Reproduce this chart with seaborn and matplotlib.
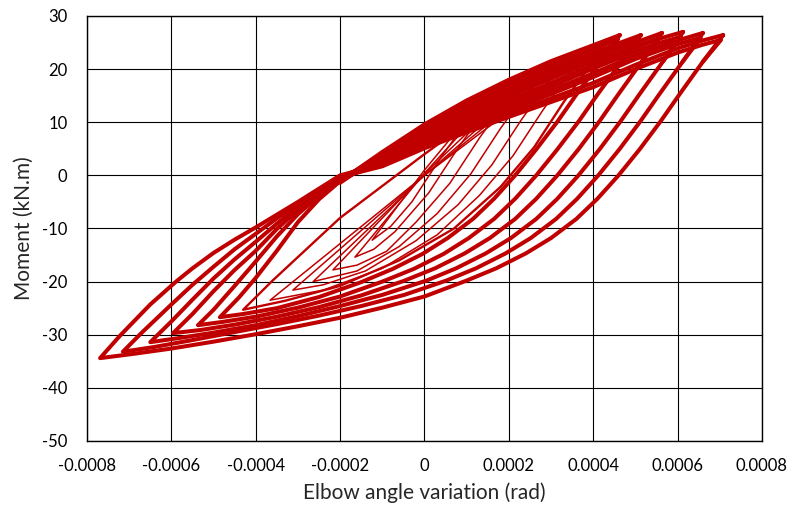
import pandas as pd
import matplotlib
matplotlib.use("Agg")
import matplotlib.pyplot as plt
from matplotlib.ticker import MultipleLocator, AutoMinorLocator, FuncFormatter
import seaborn as sns

LINE_RED = "#C00000"

# ---- small cycles (one cycle each): unloading = peak -> negative tip, reloading = tip -> peak
t1_unload = [(0.00013, 13.5), (0.00004, 3.5), (-0.00003, -5.0), (-0.00008, -9.6), (-0.000124, -12.2)]
t1_reload = [(-0.000124, -12.2), (0.0, 1.0), (0.00013, 13.5)]
t2_unload = [(0.00017, 15.2), (0.00008, 5.2), (0.00001, -3.3), (-0.00007, -10.6), (-0.00012, -13.9), (-0.000165, -15.4)]
t2_reload = [(-0.000165, -15.4), (0.0, 0.4), (0.00017, 15.2)]
t3_unload = [(0.00022, 17.0), (0.00013, 7.0), (0.00006, -1.5), (-0.00002, -8.8), (-0.00009, -14.3),
             (-0.00016, -16.9), (-0.000217, -17.8)]
t3_reload = [(-0.000217, -17.8), (0.0, 0.3), (0.00022, 17.0)]
t4_unload = [(0.00027, 18.8), (0.00018, 8.8), (0.00011, 0.3), (0.00003, -7.2), (-0.00006, -13.4),
             (-0.00016, -18.0), (-0.000264, -20.0)]
t4_reload = [(-0.000264, -20.0), (0.0, 0.0), (0.00027, 18.8)]
t5_unload = [(0.00032, 20.5), (0.00023, 10.5), (0.00016, 2.0), (0.00008, -5.5), (-0.00002, -12.3),
             (-0.00014, -18.0), (-0.00024, -20.6), (-0.000312, -21.6)]
t5_reload = [(-0.000312, -21.6), (0.0, 0.0), (0.00032, 20.5)]
t6_unload = [(0.00037, 22.2), (0.00028, 12.2), (0.00021, 3.7), (0.00013, -3.8), (0.00003, -11.2),
             (-0.0001, -17.5), (-0.00024, -21.6), (-0.000366, -23.5)]
t6_reload = [(-0.000366, -23.5), (0.0, 0.0), (0.00037, 22.2)]
t7_unload = [(0.00042, 23.8), (0.00033, 13.8), (0.00026, 5.3), (0.00018, -2.2), (0.00007, -10.0),
             (-0.00006, -16.0), (-0.0002, -20.8), (-0.00033, -23.6), (-0.00043, -25.3)]
t7_reload = [(-0.00043, -25.3), (-0.00036, -19.8), (-0.0002, -8.0), (0.0, 4.0), (0.0002, 15.5), (0.00042, 23.8)]

# ---- large cycles (repeated at each level, drawn thick)
k1_unload = [(0.000463, 26.4), (0.000415, 21.2), (0.00036, 15.2), (0.000315, 10.1), (0.000265, 4.9),
             (0.000215, 0.0), (0.000165, -4.4), (0.000115, -8.2), (0.000055, -11.8), (-0.000005, -14.8),
             (-0.000075, -17.6), (-0.00015, -20.1), (-0.00025, -22.9), (-0.00035, -25.0), (-0.00043, -26.1),
             (-0.000485, -26.7)]
k1_reload = [(-0.000485, -26.7), (-0.00044, -23.0), (-0.0004, -19.3), (-0.00035, -14.2), (-0.0003, -8.8),
             (-0.00025, -4.5), (-0.0002, -1.1), (-0.0001, 4.4), (0.0, 9.6), (0.0001, 14.1), (0.0002, 18.0),
             (0.0003, 21.5), (0.0004, 24.5), (0.000463, 26.4)]
k1_reload2 = [(-0.0002, -1.4), (-0.0001, 4.0), (0.0, 9.2), (0.0001, 13.6), (0.0002, 17.4), (0.0003, 20.8),
              (0.0004, 23.8), (0.000459, 25.6), (0.000415, 21.2)]

k2_unload = [(0.000513, 26.4), (0.000465, 21.2), (0.00041, 15.2), (0.000365, 10.1), (0.000315, 4.9),
             (0.000265, 0.0), (0.000215, -4.4), (0.000165, -8.2), (0.000105, -11.8), (0.000045, -14.8),
             (-0.000025, -17.6), (-0.0001, -20.0), (-0.0002, -22.8), (-0.0003, -24.9), (-0.0004, -26.6),
             (-0.00048, -27.6), (-0.000537, -28.2)]
k2_reload = [(-0.000537, -28.2), (-0.0005, -25.3), (-0.00045, -20.8), (-0.0004, -16.2), (-0.00035, -11.5),
             (-0.0003, -7.3), (-0.00025, -3.9), (-0.0002, -0.8), (-0.0001, 3.8), (0.0, 8.8), (0.0001, 12.9),
             (0.0002, 16.7), (0.0003, 20.1), (0.0004, 23.1), (0.000513, 26.4)]
k2_reload2 = [(-0.0002, -1.1), (-0.0001, 3.4), (0.0, 8.4), (0.0001, 12.4), (0.0002, 16.1), (0.0003, 19.4),
              (0.0004, 22.4), (0.000508, 25.6), (0.000465, 21.2)]

k3_unload = [(0.000563, 26.8), (0.000515, 21.4), (0.00046, 15.3), (0.000415, 10.2), (0.000365, 4.9),
             (0.000315, 0.0), (0.000265, -4.4), (0.000215, -8.2), (0.000155, -11.8), (0.000095, -14.7),
             (0.000025, -17.5), (-0.00005, -19.9), (-0.00015, -22.6), (-0.00025, -24.8), (-0.00035, -26.6),
             (-0.00045, -28.1), (-0.00053, -29.1), (-0.000596, -29.7)]
k3_reload = [(-0.000596, -29.7), (-0.00055, -26.1), (-0.0005, -21.8), (-0.00045, -17.8), (-0.0004, -14.2),
             (-0.00035, -10.1), (-0.0003, -6.5), (-0.00025, -3.3), (-0.0002, -0.6), (-0.0001, 3.3), (0.0, 8.0),
             (0.0001, 11.8), (0.0002, 15.4), (0.0003, 18.9), (0.0004, 22.2), (0.0005, 25.0), (0.000563, 26.8)]
k3_reload2 = [(-0.0002, -0.9), (-0.0001, 2.9), (0.0, 7.6), (0.0001, 11.3), (0.0002, 14.8), (0.0003, 18.2),
              (0.0004, 21.5), (0.0005, 24.3), (0.000558, 25.9), (0.000515, 21.4)]

k4_unload = [(0.000613, 27.0), (0.000565, 21.4), (0.00051, 15.3), (0.000465, 10.2), (0.000415, 4.9),
             (0.000365, 0.0), (0.000315, -4.4), (0.000265, -8.2), (0.000205, -11.8), (0.000145, -14.7),
             (0.000075, -17.5), (0.000005, -19.8), (-0.0001, -22.5), (-0.0002, -24.6), (-0.0003, -26.5),
             (-0.0004, -28.2), (-0.0005, -29.6), (-0.00058, -30.6), (-0.00065, -31.4)]
k4_reload = [(-0.00065, -31.4), (-0.0006, -27.5), (-0.00055, -23.4), (-0.0005, -19.4), (-0.00045, -15.8),
             (-0.0004, -12.5), (-0.00035, -9.1), (-0.0003, -5.9), (-0.00025, -2.9), (-0.0002, -0.4),
             (-0.0001, 2.9), (0.0, 7.2), (0.0001, 10.8), (0.0002, 14.1), (0.0003, 17.4), (0.0004, 20.8),
             (0.0005, 24.0), (0.00056, 25.8), (0.000613, 27.0)]
k4_reload2 = [(-0.0002, -0.7), (-0.0001, 2.5), (0.0, 6.8), (0.0001, 10.3), (0.0002, 13.5), (0.0003, 16.7),
              (0.0004, 20.1), (0.0005, 23.3), (0.00056, 25.0), (0.000608, 26.1), (0.000565, 21.4)]

k5_unload = [(0.00066, 26.8), (0.000612, 21.4), (0.000557, 15.3), (0.000512, 10.2), (0.000462, 4.9),
             (0.000412, 0.0), (0.000362, -4.4), (0.000312, -8.2), (0.000252, -11.8), (0.000192, -14.7),
             (0.000122, -17.5), (0.000052, -19.8), (-0.000048, -22.5), (-0.00015, -24.6), (-0.00025, -26.4),
             (-0.00035, -28.0), (-0.00045, -29.5), (-0.00055, -31.0), (-0.00064, -32.3), (-0.000715, -33.2)]
k5_reload = [(-0.000715, -33.2), (-0.00067, -29.6), (-0.0006, -24.3), (-0.00055, -20.6), (-0.0005, -17.2),
             (-0.00045, -13.9), (-0.0004, -11.0), (-0.00035, -8.1), (-0.0003, -5.4), (-0.00025, -2.7),
             (-0.0002, -0.2), (-0.0001, 2.5), (0.0, 6.4), (0.0001, 9.7), (0.0002, 12.8), (0.0003, 16.0),
             (0.0004, 19.2), (0.0005, 22.6), (0.0006, 25.4), (0.00066, 26.8)]
k5_reload2 = [(-0.0002, -0.5), (-0.0001, 2.1), (0.0, 6.0), (0.0001, 9.2), (0.0002, 12.2), (0.0003, 15.3),
              (0.0004, 18.5), (0.0005, 21.9), (0.0006, 24.7), (0.000655, 25.9), (0.000612, 21.4)]

k6_unload = [(0.000708, 26.4), (0.00066, 21.4), (0.000605, 15.3), (0.00056, 10.2), (0.00051, 4.9),
             (0.00046, 0.0), (0.00041, -4.4), (0.00036, -8.2), (0.0003, -11.8), (0.00024, -14.7),
             (0.00017, -17.5), (0.0001, -19.8), (0.0, -22.8), (-0.0001, -24.9), (-0.0002, -26.8),
             (-0.0003, -28.4), (-0.0004, -29.9), (-0.0005, -31.3), (-0.0006, -32.6), (-0.00069, -33.6),
             (-0.000769, -34.4)]
k6_reload = [(-0.000769, -34.4), (-0.000722, -30.2), (-0.00065, -24.3), (-0.000589, -20.0), (-0.00055, -17.5),
             (-0.0005, -14.6), (-0.00045, -12.1), (-0.0004, -9.8), (-0.00035, -7.4), (-0.0003, -5.0),
             (-0.00025, -2.5), (-0.0002, 0.0), (-0.0001, 2.1), (0.0, 5.6), (0.0001, 8.7), (0.0002, 11.6),
             (0.0003, 14.5), (0.0004, 17.4), (0.0005, 20.8), (0.0006, 23.9), (0.00066, 25.4), (0.000708, 26.4)]
k6_reload2 = [(-0.0002, -0.3), (-0.0001, 1.7), (0.0, 5.1), (0.0001, 8.1), (0.0002, 11.0), (0.0003, 13.8),
              (0.0004, 16.6), (0.0005, 20.0), (0.0006, 23.1), (0.00066, 24.6), (0.000703, 25.5), (0.00066, 21.4)]

thin_paths = {"t1": t1_unload + t1_reload, "t2": t2_unload + t2_reload, "t3": t3_unload + t3_reload,
              "t4": t4_unload + t4_reload, "t5": t5_unload + t5_reload, "t6": t6_unload + t6_reload}
mid_paths = {"t7": t7_unload + t7_reload}
thick_paths = {"k1": k1_unload + k1_reload, "k1b": k1_reload2,
               "k2": k2_unload + k2_reload, "k2b": k2_reload2,
               "k3": k3_unload + k3_reload, "k3b": k3_reload2,
               "k4": k4_unload + k4_reload, "k4b": k4_reload2,
               "k5": k5_unload + k5_reload, "k5b": k5_reload2,
               "k6": k6_unload + k6_reload, "k6b": k6_reload2}


def to_frame(paths):
    rows = []
    for name, pts in paths.items():
        for i, (x, y) in enumerate(pts):
            rows.append({"loop": name, "order": i, "rot": x, "moment": y})
    return pd.DataFrame(rows)


sns.set_style("white")
plt.rcParams["font.family"] = ["Lato", "DejaVu Sans"]

fig = plt.figure(figsize=(7.91, 5.15), dpi=100)
ax = fig.add_axes([0.110, 0.1437, 0.8533, 0.8253])

for paths, lw in [(thin_paths, 1.1), (mid_paths, 1.7), (thick_paths, 2.9)]:
    sns.lineplot(data=to_frame(paths), x="rot", y="moment", units="loop", estimator=None, sort=False,
                 color=LINE_RED, linewidth=lw, ax=ax, legend=False)

ax.set_xlim(-0.0008, 0.0008)
ax.set_ylim(-50, 30)
ax.xaxis.set_major_locator(MultipleLocator(0.0002))
ax.yaxis.set_major_locator(MultipleLocator(10))
ax.xaxis.set_minor_locator(AutoMinorLocator(5))
ax.yaxis.set_minor_locator(AutoMinorLocator(5))
ax.xaxis.set_major_formatter(FuncFormatter(lambda v, p: "0" if abs(v) < 1e-12 else f"{v:.4f}"))
ax.yaxis.set_major_formatter(FuncFormatter(lambda v, p: f"{v:.0f}"))
ax.grid(True, which="major", color="black", linewidth=0.8)
ax.tick_params(which="major", length=0, labelsize=12, colors="black")
ax.tick_params(axis="x", which="major", pad=12)
ax.tick_params(axis="y", which="major", pad=14)
ax.tick_params(which="minor", direction="in", length=4, width=0.8, color="black")
for s in ax.spines.values():
    s.set_color("black")
    s.set_linewidth(1.0)
ax.set_axisbelow(True)

ax.set_xlabel("Elbow angle variation (rad)", fontsize=15, labelpad=6)
ax.set_ylabel("Moment (kN.m)", fontsize=15, labelpad=6)

fig.savefig("out.png", dpi=100)
